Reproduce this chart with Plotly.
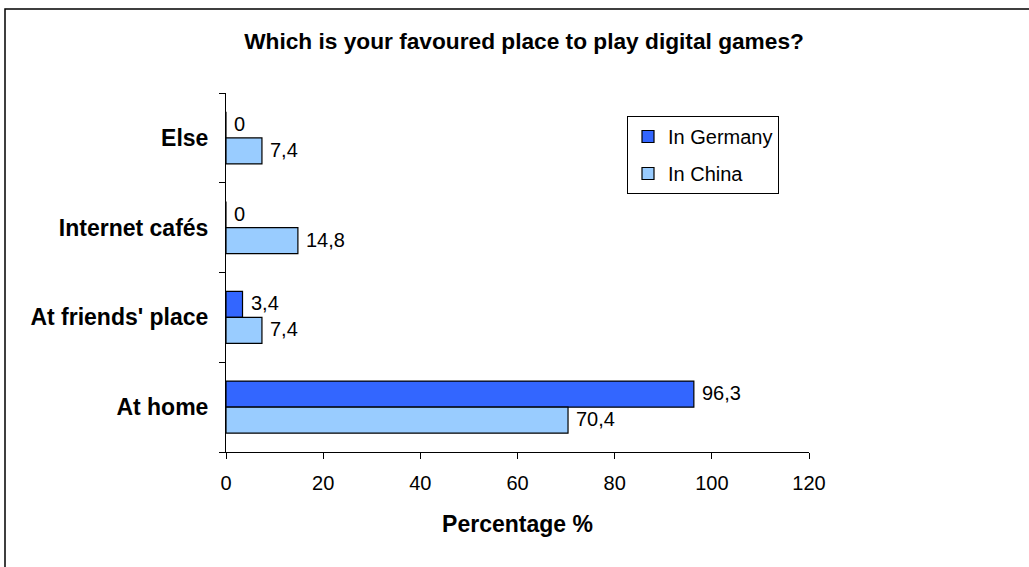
import plotly.graph_objects as go

# ---- data ----
categories = ["At home", "At friends' place", "Internet cafés", "Else"]
germany = [96.3, 3.4, 0, 0]
china = [70.4, 7.4, 14.8, 7.4]
series_names = ["In Germany", "In China"]
x_ticks = [0, 20, 40, 60, 80, 100, 120]
title_text = "Which is your favoured place to play digital games?"
x_title = "Percentage %"

# ---- layout geometry (pixels) ----
W, H = 1029, 567
L, T = 226, 93
R = W - 809
B = H - 452
pw, ph = W - L - R, H - T - B

def px_to_paper(px, py):
    return (px - L) / pw, (H - B - py) / ph

FONT = "Liberation Sans, Arial, sans-serif"
c_ger = "#3366FF"
c_chn = "#99CCFF"
bw = 0.29

fig = go.Figure()
fig.add_trace(go.Bar(
    name=series_names[0], y=categories, x=germany, orientation="h", legendgroup="g1",
    width=bw, offset=0, marker=dict(color=c_ger, line=dict(color="black", width=1.2)),
))
fig.add_trace(go.Bar(
    name=series_names[1], y=categories, x=china, orientation="h", legendgroup="g2",
    width=bw, offset=-bw, marker=dict(color=c_chn, line=dict(color="black", width=1.2)),
))

def fmt(v):
    return ("%g" % v).replace(".", ",")

annotations = []
for i, v in enumerate(germany):
    annotations.append(dict(x=v, y=i + bw / 2, xref="x", yref="y", text=fmt(v),
                            showarrow=False, xanchor="left", yanchor="middle", xshift=6, yshift=1,
                            font=dict(family=FONT, size=20, color="black")))
for i, v in enumerate(china):
    annotations.append(dict(x=v, y=i - bw / 2, xref="x", yref="y", text=fmt(v),
                            showarrow=False, xanchor="left", yanchor="middle", xshift=6, yshift=1,
                            font=dict(family=FONT, size=20, color="black")))

x0, y0 = px_to_paper(5, 9)
x1, y1 = px_to_paper(W + 30, H + 30)

fig.update_layout(
    width=W, height=H,
    margin=dict(l=L, r=R, t=T, b=B, pad=0),
    paper_bgcolor="white", plot_bgcolor="white",
    barmode="overlay",
    font=dict(family=FONT, size=20, color="black"),
    title=dict(text="<b>" + title_text + "</b>", x=524 / W, xanchor="center",
               y=1 - 41 / H, yanchor="middle", yref="container",
               font=dict(family=FONT, size=22.7, color="black")),
    xaxis=dict(range=[0, 120], tickvals=x_ticks, showgrid=False, zeroline=False,
               showline=True, linecolor="black", linewidth=1,
               ticks="outside", ticklen=6, tickcolor="black", ticklabelstandoff=7,
               tickfont=dict(family=FONT, size=20, color="black"),
               title=dict(text="<b>" + x_title + "</b>", standoff=22,
                          font=dict(family=FONT, size=23, color="black"))),
    yaxis=dict(type="category", categoryorder="array", categoryarray=categories,
               range=[-0.5, 3.5], showgrid=False, zeroline=False,
               showline=True, linecolor="black", linewidth=1,
               ticks="outside", ticklen=6, tickcolor="black", tickson="boundaries",
               ticklabelstandoff=12,
               tickfont=dict(family=FONT, size=23, color="black", weight="bold")),
    legend=dict(x=px_to_paper(627, 0)[0], y=px_to_paper(0, 116)[1], xanchor="left", yanchor="top",
                bordercolor="black", borderwidth=1, bgcolor="white",
                font=dict(family=FONT, size=20, color="black"),
                traceorder="grouped", tracegroupgap=8),
    annotations=annotations,
    shapes=[dict(type="rect", xref="paper", yref="paper", x0=x0, y0=y0, x1=x1, y1=y1,
                 line=dict(color="black", width=1.5), fillcolor="rgba(0,0,0,0)", layer="below")],
    showlegend=True,
)

fig.write_html("out.html", config={"displayModeBar": False},
               post_script="document.body.style.margin='0px';")
